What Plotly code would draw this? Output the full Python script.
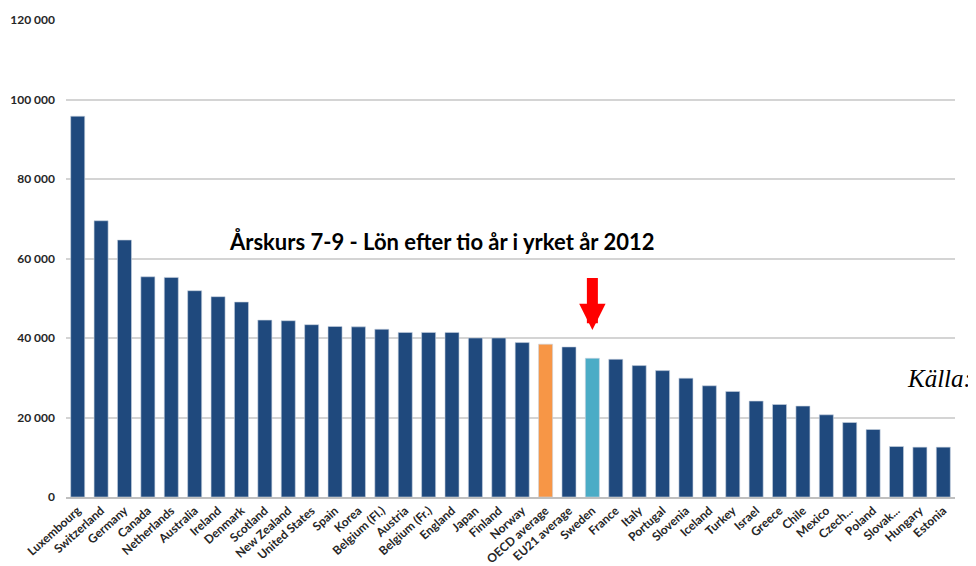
import plotly.graph_objects as go

countries = ["Luxembourg", "Switzerland", "Germany", "Canada", "Netherlands", "Australia",
             "Ireland", "Denmark", "Scotland", "New Zealand", "United States", "Spain",
             "Korea", "Belgium (Fl.)", "Austria", "Belgium (Fr.)", "England", "Japan",
             "Finland", "Norway", "OECD average", "EU21 average", "Sweden", "France",
             "Italy", "Portugal", "Slovenia", "Iceland", "Turkey", "Israel", "Greece",
             "Chile", "Mexico", "Czech...", "Poland", "Slovak...", "Hungary", "Estonia"]
salaries = [95800, 69500, 64650, 55400, 55250, 51900,
            50400, 49050, 44500, 44350, 43350, 42900,
            42800, 42200, 41400, 41400, 41400, 40000,
            40000, 38850, 38450, 37750, 34900, 34650,
            33060, 31800, 29900, 27980, 26550, 24130, 23270,
            22870, 20680, 18740, 16980, 12700, 12540, 12540]

y_ticks = [0, 20000, 40000, 60000, 80000, 100000, 120000]
y_tick_labels = ["0", "20 000", "40 000", "60 000", "80 000", "100 000", "120 000"]

title_text = "Årskurs 7-9 - Lön efter tio år i yrket år 2012"
source_text = "Källa:"
highlight = "Sweden"

DARK = "#1F497D"
colors = []
for c in countries:
    if c == "OECD average":
        colors.append("#F79646")
    elif c == "Sweden":
        colors.append("#4BACC6")
    else:
        colors.append(DARK)

fig = go.Figure(go.Bar(
    x=countries, y=salaries,
    marker=dict(color=colors, line=dict(color="#c9d3e0", width=0.6)),
    width=0.6,
))

# page body has an 8px margin, so the figure is sized to fill the rest of the window
fig.update_layout(
    width=968, height=558,
    margin=dict(l=58, r=21, t=12, b=69),
    paper_bgcolor="white", plot_bgcolor="white",
    showlegend=False,
    font=dict(family="Lato, Open Sans, sans-serif", color="#262626"),
)

fig.update_yaxes(
    range=[0, 120000],
    tickvals=y_ticks, ticktext=y_tick_labels,
    showgrid=True, gridcolor="#d4d4d4", gridwidth=1.5,
    zeroline=False,
    tickfont=dict(size=12, weight="bold", color="#262626"),
    ticklabelstandoff=10,
    automargin=False,
    fixedrange=True,
)
fig.update_xaxes(
    tickangle=-42,
    tickfont=dict(size=12, weight="bold", color="#262626"),
    showline=True, linecolor="#bfbfbf", linewidth=2,
    ticks="",
    automargin=False,
    fixedrange=True,
)

fig.add_annotation(
    text=title_text, xref="paper", yref="paper", x=0.422, y=0.535,
    xanchor="center", yanchor="middle", showarrow=False,
    font=dict(size=22, weight="bold", color="#000000", family="Lato, sans-serif"),
)

fig.add_annotation(
    x=highlight, y=42000, ax=highlight, ay=55500, axref="x", ayref="y",
    xref="x", yref="y", text="", showarrow=True,
    arrowhead=2, arrowsize=0.48, arrowwidth=11, arrowcolor="#FF0000",
)

fig.add_annotation(
    text=source_text, xref="paper", yref="paper", x=0.944, y=0.249,
    xanchor="left", yanchor="middle", showarrow=False,
    font=dict(size=25, style="italic", color="#000000", family="Liberation Serif, serif"),
)

fig.write_html("out.html")
